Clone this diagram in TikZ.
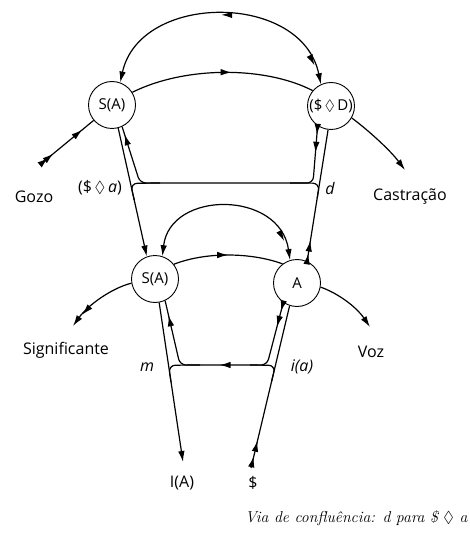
\documentclass[tikz,border=0pt]{standalone}
\usepackage{fontspec}
\usepackage{amssymb}
\setsansfont{Open Sans}
\usetikzlibrary{arrows.meta,decorations.markings,calc}
\begin{document}
\begin{tikzpicture}[x=1pt,y=-1pt,
  line width=1.2pt,
  >={Latex[length=11pt,width=6.5pt]},
  circ/.style={circle, draw, line width=0.9pt, minimum size=47pt, inner sep=0pt,
    font=\sffamily\fontsize{15}{15}\selectfont},
  lab/.style={font=\sffamily\fontsize{16}{16}\selectfont, inner sep=0pt},
  ital/.style={font=\sffamily\itshape\fontsize{16}{16}\selectfont, inner sep=0pt},
  caption/.style={font=\rmfamily\itshape\fontsize{15.8}{16}\selectfont, inner sep=0pt},
  tips/.style={postaction={decorate,decoration={markings,#1}}},
]
\useasboundingbox (0,0) rectangle (470,537);

% nodes
\node[circ] (SA1) at (112,105) {S(A)};
\node[circ] (SD)  at (331,106) {(\$\,$\lozenge$\,D)};
\node[circ] (SA2) at (155,279) {S(A)};
\node[circ] (A)   at (297,283) {A};

% free ends and corners
\coordinate (gozoEnd) at (42,163);
\coordinate (castEnd) at (405,170);
\coordinate (sigEnd)  at (73,326);
\coordinate (vozEnd)  at (370,327);
\coordinate (IAend)   at (183,462);
\coordinate (Send)    at (251,468);
\coordinate (cTR) at (313,183);
\coordinate (cTL) at (140,183);
\coordinate (cBR) at (267,365);
\coordinate (cBL) at (180,365);

% upper level
\draw[<->, tips={mark=at position 0.5 with {\arrow{>}}, mark=at position 20pt with {\arrowreversed{>}}}]
  (SD.115) .. controls (302,-8) and (140,-8) .. (SA1.70);
\draw[tips={mark=at position 0.55 with {\arrow{>}}}]
  (SA1.32) .. controls (185,66) and (265,66) .. (SD.140);
\draw[tips={mark=at position 0.12 with {\arrow{>}}, mark=at position 0.22 with {\arrow{>}}, mark=at position 0.78 with {\arrow{>}}}]
  (gozoEnd) -- (SA1.220);
\draw[->] (SD.330) .. controls (368,130) and (390,150) .. (castEnd);

% verticals top
\draw[->] (SA1.285) -- (SA2.110);
\draw[rounded corners=6pt, tips={mark=at position 9pt with {\arrow{>}}, mark=at position 27pt with {\arrow{>}}, mark=at position -8pt with {\arrow{>}}}]
  (SD.236) -- (cTR) -- (cTL) -- (SA1.295);
\draw[rounded corners=7pt] ($(SA1.285)!0.56!(SA2.110)$) -- ($(SA1.285)!0.43!(SA2.110)$) -- (160,183);
\draw[tips={mark=at position 8pt with {\arrow{>}}, mark=at position 21pt with {\arrow{>}}}]
  (A.65) -- (SD.263);
\draw[rounded corners=7pt] ($(A.65)!0.48!(SD.263)$) -- ($(A.65)!0.594!(SD.263)$) -- (290,183);

% lower level
\draw[<->, tips={mark=at position 20pt with {\arrowreversed{>}}}]
  (A.107) .. controls (280,190) and (170,190) .. (SA2.72);
\draw[tips={mark=at position 0.5 with {\arrow{>}}}]
  (SA2.38) .. controls (205,252) and (250,252) .. (A.127);
\draw[->, tips={mark=at position 0.8 with {\arrow{>}}}]
  (SA2.190) .. controls (112,288) and (88,305) .. (sigEnd);
\draw[->] (A.350) .. controls (335,292) and (355,305) .. (vozEnd);

% verticals bottom
\draw[->] (SA2.280) -- (IAend);
\draw[rounded corners=6pt, tips={mark=at position 9pt with {\arrow{>}}, mark=at position 25pt with {\arrow{>}}, mark=at position 110pt with {\arrow{>}}, mark=at position -15pt with {\arrow{>}}}]
  (A.235) -- (cBR) -- (cBL) -- (SA2.295);
\draw[rounded corners=7pt] ($(SA2.280)!0.5!(IAend)$) -- ($(SA2.280)!0.393!(IAend)$) -- (200,365);
\draw[tips={mark=at position 12pt with {\arrow{>}}, mark=at position 28pt with {\arrow{>}}}]
  (Send) -- (A.252);
\draw[rounded corners=7pt] ($(Send)!0.535!(A.252)$) -- ($(Send)!0.633!(A.252)$) -- (250,365);

% labels
\node[lab] (gozo) at (34,197) {Gozo};
\node[lab] (sa) at (100,188) {(\$\,$\lozenge$\,\textit{a})};
\node[ital] (d) at (330,188) {d};
\node[lab] (cast) at (410,197) {Castração};
\node[lab] (sig) at (66,350) {Significante};
\node[lab] (voz) at (371,352) {Voz};
\node[ital] (m) at (147,367) {m};
\node[ital] (ia) at (302,367) {i(a)};
\node[lab] (IA) at (182,483) {I(A)};
\node[lab] (S) at (253,483) {\$};
\node[caption, anchor=east] (cap) at (468,518) {Via de confluência: d para \$ $\lozenge$ a};
\end{tikzpicture}
\end{document}
